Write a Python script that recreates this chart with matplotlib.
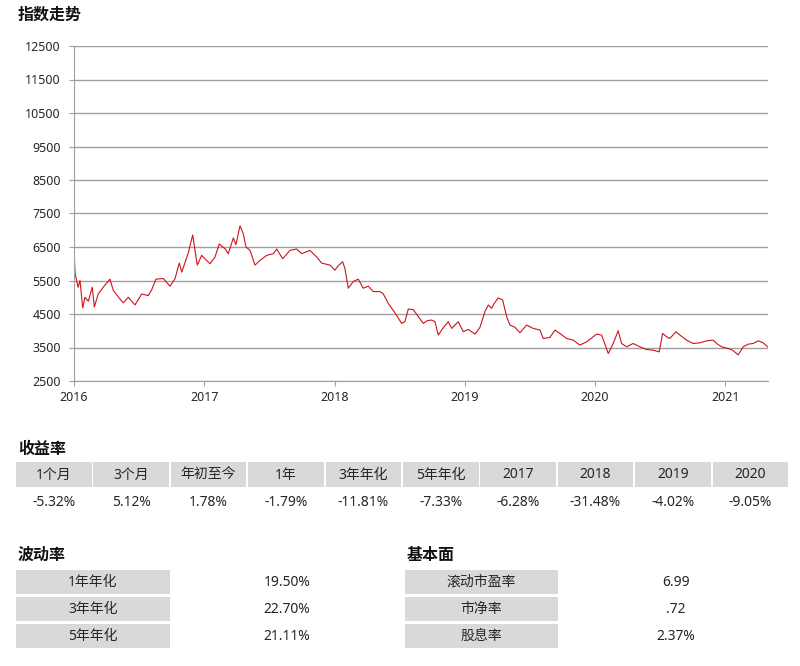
import matplotlib.pyplot as plt
from matplotlib.patches import Rectangle

plt.rcParams['font.family'] = ['Noto Sans', 'Noto Sans CJK SC', 'DejaVu Sans']

# index line (decimal year, level)
years = [
    2016.000, 2016.008, 2016.031, 2016.046, 2016.067, 2016.084, 2016.110, 2016.140,
    2016.156, 2016.186, 2016.225, 2016.276, 2016.302, 2016.340, 2016.378, 2016.417,
    2016.468, 2016.520, 2016.570, 2016.596, 2016.629, 2016.685, 2016.737, 2016.775,
    2016.808, 2016.827, 2016.877, 2016.911, 2016.946, 2016.980, 2017.005, 2017.044,
    2017.082, 2017.115, 2017.159, 2017.184, 2017.223, 2017.243, 2017.274, 2017.299,
    2017.320, 2017.351, 2017.389, 2017.428, 2017.479, 2017.530, 2017.556, 2017.602,
    2017.658, 2017.709, 2017.748, 2017.811, 2017.863, 2017.901, 2017.965, 2018.003,
    2018.028, 2018.062, 2018.080, 2018.105, 2018.144, 2018.182, 2018.220, 2018.259,
    2018.297, 2018.348, 2018.374, 2018.412, 2018.464, 2018.515, 2018.540, 2018.566,
    2018.604, 2018.642, 2018.681, 2018.711, 2018.745, 2018.771, 2018.796, 2018.830,
    2018.873, 2018.899, 2018.924, 2018.949, 2018.988, 2019.026, 2019.078, 2019.116,
    2019.154, 2019.180, 2019.206, 2019.223, 2019.256, 2019.290, 2019.321, 2019.346,
    2019.385, 2019.423, 2019.474, 2019.525, 2019.576, 2019.602, 2019.653, 2019.692,
    2019.730, 2019.781, 2019.832, 2019.883, 2019.935, 2019.985, 2020.012, 2020.050,
    2020.101, 2020.139, 2020.177, 2020.203, 2020.242, 2020.292, 2020.344, 2020.395,
    2020.446, 2020.492, 2020.518, 2020.549, 2020.574, 2020.620, 2020.651, 2020.702,
    2020.753, 2020.804, 2020.856, 2020.906, 2020.933, 2020.971, 2021.022, 2021.055,
    2021.098, 2021.137, 2021.175, 2021.213, 2021.252, 2021.290, 2021.324,
]
index_vals = [
    6400, 5720, 5300, 5500, 4680, 5000, 4880, 5300,
    4710, 5100, 5300, 5540, 5200, 5010, 4830, 5000,
    4770, 5100, 5050, 5220, 5540, 5560, 5330, 5550,
    6020, 5750, 6320, 6860, 5960, 6250, 6150, 6000,
    6200, 6590, 6450, 6300, 6770, 6570, 7130, 6900,
    6500, 6400, 5960, 6100, 6250, 6300, 6440, 6150,
    6400, 6440, 6300, 6400, 6200, 6020, 5960, 5810,
    5940, 6060, 5850, 5270, 5470, 5540, 5270, 5330,
    5170, 5170, 5100, 4820, 4530, 4220, 4270, 4650,
    4630, 4430, 4220, 4300, 4320, 4270, 3870, 4070,
    4270, 4070, 4170, 4270, 3970, 4040, 3900, 4100,
    4570, 4770, 4670, 4800, 4980, 4920, 4420, 4170,
    4100, 3940, 4170, 4070, 4020, 3770, 3800, 4020,
    3920, 3770, 3720, 3570, 3670, 3820, 3900, 3870,
    3320, 3620, 4000, 3620, 3520, 3620, 3520, 3440,
    3420, 3370, 3920, 3820, 3770, 3970, 3870, 3720,
    3620, 3640, 3700, 3720, 3620, 3520, 3470, 3420,
    3280, 3520, 3600, 3620, 3700, 3640, 3520,
]
year_ticks = [2016, 2017, 2018, 2019, 2020, 2021]

ret_labels = ['1个月', '3个月', '年初至今', '1年', '3年年化', '5年年化',
              '2017', '2018', '2019', '2020']
ret_vals = ['-5.32%', '5.12%', '1.78%', '-1.79%', '-11.81%', '-7.33%',
            '-6.28%', '-31.48%', '-4.02%', '-9.05%']
vol_labels = ['1年年化', '3年年化', '5年年化']
vol_vals = ['19.50%', '22.70%', '21.11%']
fund_labels = ['滚动市盈率', '市净率', '股息率']
fund_vals = ['6.99', '.72', '2.37%']

W, H = 800, 666
GRAY = '#d9d9d9'
TXT = '#262626'

fig = plt.figure(figsize=(8, 6.66), dpi=100)


def fx(px):
    return px / W


def fy(py):
    return 1 - py / H


def cell(x0, y0, w, h):
    fig.add_artist(Rectangle((fx(x0), fy(y0 + h)), w / W, h / H,
                             transform=fig.transFigure, color=GRAY, lw=0))


# line chart
ax = fig.add_axes([fx(74), fy(381), (768 - 74) / W, (381 - 46) / H])
ax.plot(years, index_vals, color='#d0121b', lw=0.8)
ax.set_xlim(2016, 2021.327)
ax.set_ylim(2500, 12500)
ax.set_yticks(range(2500, 12501, 1000))
ax.set_xticks(year_ticks)
ax.set_xticklabels([str(y) for y in year_ticks])
ax.grid(axis='y', color='#a0a0a0', lw=1)
ax.set_axisbelow(True)
for s in ['top', 'right']:
    ax.spines[s].set_visible(False)
for s in ['left', 'bottom']:
    ax.spines[s].set_color('#a0a0a0')
ax.tick_params(colors='#a0a0a0', labelcolor=TXT, labelsize=9, length=3.5)
ax.tick_params(axis='y', pad=6)
ax.tick_params(axis='x', pad=4)

fig.text(fx(18), fy(16), '指数走势', fontsize=11.5, fontweight='bold',
         color='#111111', va='center')

# returns table
fig.text(fx(18), fy(450), '收益率', fontsize=11.5, fontweight='bold',
         color='#111111', va='center')
for i, (lab, val) in enumerate(zip(ret_labels, ret_vals)):
    x0 = 16 + i * 77.4
    cell(x0, 462, 75.5, 25)
    fig.text(fx(x0 + 37.75), fy(475), lab, fontsize=10, color=TXT,
             ha='center', va='center')
    fig.text(fx(x0 + 37.75), fy(502), val, fontsize=10, color=TXT,
             ha='center', va='center')

# volatility / fundamentals
fig.text(fx(18), fy(556), '波动率', fontsize=11.5, fontweight='bold',
         color='#111111', va='center')
fig.text(fx(407), fy(556), '基本面', fontsize=11.5, fontweight='bold',
         color='#111111', va='center')
for i in range(3):
    y0 = 570 + i * 27
    cell(16, y0, 154, 24)
    fig.text(fx(93), fy(y0 + 12.5), vol_labels[i], fontsize=10, color=TXT,
             ha='center', va='center')
    fig.text(fx(287), fy(y0 + 12.5), vol_vals[i], fontsize=10, color=TXT,
             ha='center', va='center')
    cell(405, y0, 153, 24)
    fig.text(fx(481.5), fy(y0 + 12.5), fund_labels[i], fontsize=10, color=TXT,
             ha='center', va='center')
    fig.text(fx(676), fy(y0 + 12.5), fund_vals[i], fontsize=10, color=TXT,
             ha='center', va='center')

fig.savefig('out.png', dpi=100)
